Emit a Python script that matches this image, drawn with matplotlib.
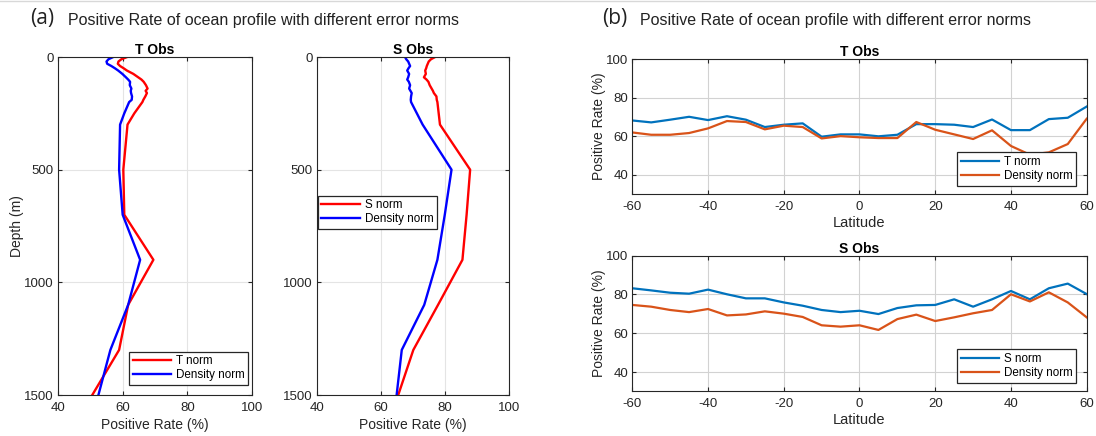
import matplotlib
matplotlib.use("Agg")
import matplotlib.pyplot as plt
from matplotlib.lines import Line2D

plt.rcParams["font.family"] = ["Liberation Sans", "DejaVu Sans"]
plt.rcParams["axes.unicode_minus"] = False

# ---- depth profiles (panel a) ----
depth = [0, 10, 20, 30, 40, 50, 60, 75, 90, 100, 110, 125, 140, 150, 160,
         175, 190, 200, 250, 300, 500, 700, 900, 1100, 1300, 1500]

tobs_t_norm = [61.4, 59.6, 58.7, 58.5, 59.2, 60.3, 61.3, 63.3, 64.8, 65.8, 66.5,
               67.2, 67.7, 67.1, 67.5, 67.0, 66.4, 66.1, 63.6, 61.5, 60.2, 60.5,
               69.5, 61.7, 58.9, 50.6]
tobs_dens_norm = [57.1, 55.6, 55.0, 55.2, 56.5, 57.6, 58.6, 59.9, 61.0, 61.7, 62.3,
                  62.2, 62.7, 62.5, 62.6, 62.9, 62.8, 62.0, 60.5, 59.2, 58.9, 60.0,
                  65.4, 61.7, 56.2, 52.5]

sobs_s_norm = [76.9, 75.6, 74.9, 74.6, 74.3, 74.1, 73.8, 74.0, 73.4, 74.2, 74.8,
               75.2, 75.8, 76.2, 76.5, 77.3, 77.4, 77.6, 78.0, 78.4, 87.8, 86.7,
               85.4, 77.8, 70.1, 65.4]
sobs_dens_norm = [67.5, 67.9, 68.5, 68.8, 69.1, 68.6, 68.2, 68.8, 68.5, 68.2, 68.7,
                  69.1, 68.8, 69.2, 69.6, 69.4, 69.3, 69.4, 71.2, 73.0, 82.0, 79.9,
                  77.6, 73.5, 66.5, 64.9]

# ---- latitude profiles (panel b) ----
lat = [-60, -55, -50, -45, -40, -35, -30, -25, -20, -15, -10, -5, 0,
       5, 10, 15, 20, 25, 30, 35, 40, 45, 50, 55, 60]

lat_tobs_t_norm = [68.2, 67.2, 68.6, 70.1, 68.4, 70.4, 68.6, 64.8, 66.0, 66.7, 59.8,
                   61.0, 61.0, 60.0, 60.8, 66.3, 66.3, 66.0, 64.8, 68.7, 63.2, 63.2,
                   68.9, 69.6, 75.4]
lat_tobs_dens_norm = [62.0, 60.8, 60.8, 61.7, 64.1, 67.9, 67.4, 63.6, 65.5, 64.8, 58.9,
                      60.1, 59.5, 59.1, 59.1, 67.4, 63.4, 61.0, 58.6, 63.1, 55.0, 50.5,
                      51.7, 56.0, 69.1]

lat_sobs_s_norm = [83.2, 82.1, 80.9, 80.4, 82.5, 80.1, 78.0, 78.0, 75.9, 74.2, 72.0,
                   70.9, 71.6, 69.9, 73.0, 74.4, 74.6, 77.5, 73.7, 77.5, 81.8, 77.5,
                   83.2, 85.6, 80.2]
lat_sobs_dens_norm = [74.6, 73.7, 72.0, 70.9, 72.5, 69.2, 69.7, 71.3, 70.1, 68.4, 64.1,
                      63.4, 64.1, 61.7, 67.3, 69.6, 66.3, 68.2, 70.3, 72.0, 80.1, 76.4,
                      81.1, 75.9, 68.2]

EDGE = "#262626"
BLUE = "#0072BD"
ORANGE = "#D95319"


def matlab_axes(ax, grid_color):
    for s in ax.spines.values():
        s.set_color(EDGE)
        s.set_linewidth(0.8)
    ax.tick_params(direction="in", length=3, width=0.8, color=EDGE,
                   labelcolor=EDGE, labelsize=9.5, top=True, right=True)
    ax.tick_params(axis="x", pad=5)
    ax.tick_params(axis="y", pad=3)
    ax.grid(True, color=grid_color, linewidth=0.8)
    ax.set_axisbelow(True)


def legend(ax, **kw):
    leg = ax.legend(fontsize=8.4, fancybox=False, framealpha=1, edgecolor=EDGE,
                    handlelength=3.3, handletextpad=0.4, borderpad=0.3,
                    labelspacing=0.2, **kw)
    leg.get_frame().set_linewidth(0.9)
    return leg


fig = plt.figure(figsize=(10.96, 4.36), dpi=100)
W, H = 1096.0, 436.0


def add_axes(x0, y0, x1, y1):
    return fig.add_axes([x0 / W, 1 - y1 / H, (x1 - x0) / W, (y1 - y0) / H])


# panel (a): vertical profiles
for x0, x1, title, main, dens, main_lab, with_ylabel, leg_kw in [
    (58, 252, "T Obs", tobs_t_norm, tobs_dens_norm, "T norm", True,
     dict(loc="lower right", bbox_to_anchor=(0.98, 0.03))),
    (316.7, 509.3, "S Obs", sobs_s_norm, sobs_dens_norm, "S norm", False,
     dict(loc="upper left", bbox_to_anchor=(0.006, 0.59))),
]:
    ax = add_axes(x0, 57, x1, 395)
    ax.plot(main, depth, color="red", lw=1.7, label=main_lab)
    ax.plot(dens, depth, color="blue", lw=1.7, label="Density norm")
    ax.set_xlim(40, 100)
    ax.set_ylim(1500, 0)
    ax.set_xticks([40, 60, 80, 100])
    ax.set_yticks([0, 500, 1000, 1500])
    matlab_axes(ax, "#e4e4e4")
    ax.set_title(title, fontsize=10, fontweight="bold", color="black", pad=2)
    ax.set_xlabel("Positive Rate (%)", fontsize=10, color=EDGE, labelpad=3)
    if with_ylabel:
        ax.set_ylabel("Depth (m)", fontsize=10, color=EDGE, labelpad=0)
    legend(ax, borderaxespad=0, **leg_kw)

# panel (b): latitude profiles
for y0, y1, title, main, dens, main_lab in [
    (59, 194.3, "T Obs", lat_tobs_t_norm, lat_tobs_dens_norm, "T norm"),
    (255.7, 391.4, "S Obs", lat_sobs_s_norm, lat_sobs_dens_norm, "S norm"),
]:
    ax = add_axes(632.3, y0, 1086.7, y1)
    ax.plot(lat, main, color=BLUE, lw=1.6, label=main_lab)
    ax.plot(lat, dens, color=ORANGE, lw=1.6, label="Density norm")
    ax.set_xlim(-60, 60)
    ax.set_ylim(30, 100)
    ax.set_xticks(range(-60, 61, 20))
    ax.set_yticks([40, 60, 80, 100])
    matlab_axes(ax, "#d2d2d2")
    ax.set_title(title, fontsize=10, fontweight="bold", color="black", pad=2)
    ax.set_xlabel("Latitude", fontsize=10.5, color=EDGE, labelpad=2)
    ax.set_ylabel("Positive Rate (%)", fontsize=10, color=EDGE, labelpad=0)
    legend(ax, loc="lower right", bbox_to_anchor=(0.977, 0.065), borderaxespad=0)

# panel headers
fig.text(30 / W, 1 - 24 / H, "(a)", fontsize=15, family=["Open Sans", "DejaVu Sans"],
         color="#222222", va="baseline")
fig.text(68 / W, 1 - 25 / H, "Positive Rate of ocean profile with different error norms",
         fontsize=11.5, color="#222222", va="baseline")
fig.text(602 / W, 1 - 24 / H, "(b)", fontsize=15, family=["Open Sans", "DejaVu Sans"],
         color="#222222", va="baseline")
fig.text(640 / W, 1 - 25 / H, "Positive Rate of ocean profile with different error norms",
         fontsize=11.5, color="#222222", va="baseline")

# thin rule along the top edge
fig.add_artist(Line2D([0, 1], [1 - 1.5 / H, 1 - 1.5 / H], transform=fig.transFigure,
                      color="#d8d8d8", lw=1))

fig.savefig("out.png", dpi=100)
